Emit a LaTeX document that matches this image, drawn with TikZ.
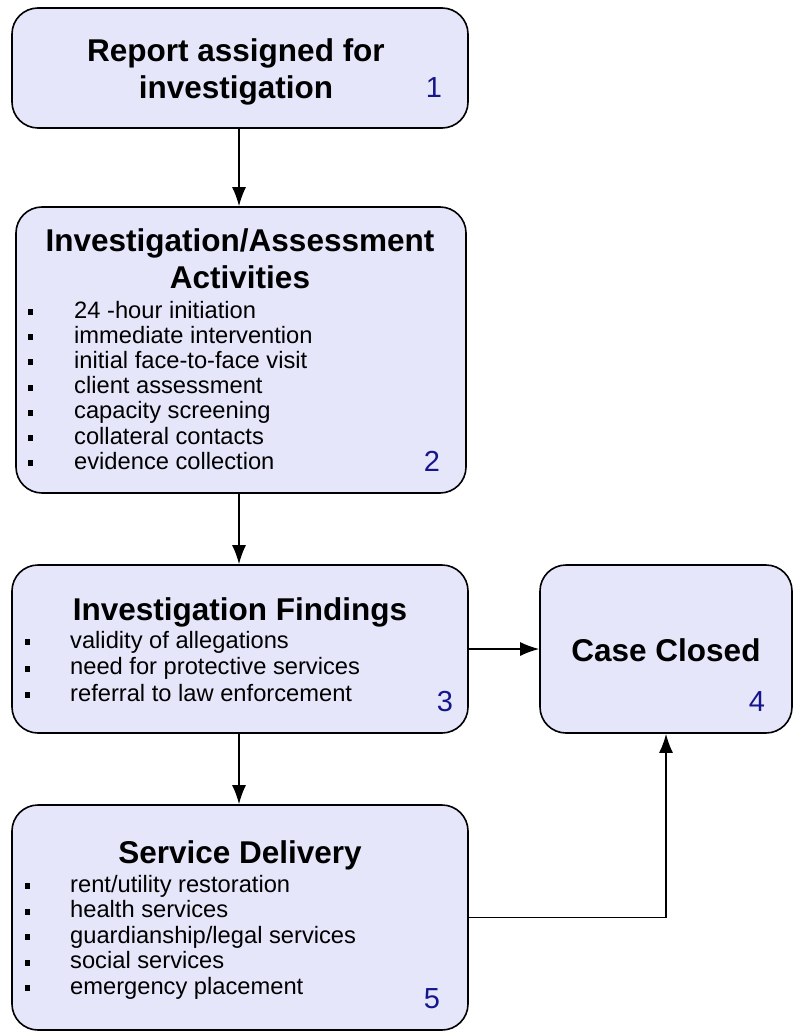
\documentclass[tikz,border=0pt]{standalone}
\usepackage{fontspec}
\setmainfont{Liberation Sans}
\usetikzlibrary{arrows.meta}

\definecolor{boxfill}{HTML}{E6E6FA}
\definecolor{numblue}{HTML}{16168C}

\tikzset{
  box/.style={draw, line width=1.6pt, rounded corners=26pt, fill=boxfill},
  title/.style={font=\fontsize{31.5}{37}\selectfont\bfseries, align=center},
  item/.style={anchor=west, inner sep=0pt, text height=17pt, text depth=5pt,
    font=\fontsize{23.7}{24}\selectfont},
  num/.style={font=\fontsize{29}{29}\selectfont, text=numblue, inner sep=0pt},
  flow/.style={line width=1.6pt, -{Latex[length=19pt,width=14pt]}}
}

\begin{document}
\begin{tikzpicture}[x=1pt,y=-1pt]
     \useasboundingbox (0,0) rectangle (796,1032);
     % boxes
     \node[box, minimum width=456pt, minimum height=120pt] (report) at (240,68) {};
     \node[box, minimum width=450pt, minimum height=286pt] (activities) at (241,350) {};
     \node[box, minimum width=456pt, minimum height=168pt] (findings) at (240,649) {};
     \node[box, minimum width=252pt, minimum height=168pt] (closed) at (666,649) {};
     \node[box, minimum width=456pt, minimum height=225pt] (delivery) at (240,917.5) {};
     % titles
     \node[title] (reporttitle) at (236,71.5) {Report assigned for\\investigation};
     \node[title] (acttitle) at (240,259) {Investigation/Assessment\\Activities};
     \node[title] (findtitle) at (240,612) {Investigation Findings};
     \node[title] (closedtitle) at (666,650) {Case Closed};
     \node[title] (delivtitle) at (240,855) {Service Delivery};
     % bullet lists
     \foreach \t [count=\i] in {24 -hour initiation, immediate intervention, initial face-to-face visit,
        client assessment, capacity screening, collateral contacts, evidence collection}
        {\fill (28,{312+25.2*(\i-1)-3}) rectangle ++(5,6);
         \node[item] at (74,{312+25.2*(\i-1)}) {\t};}
     \foreach \t [count=\i] in {validity of allegations, need for protective services, referral to law enforcement}
        {\fill (25,{642+26.5*(\i-1)-3}) rectangle ++(5,6);
         \node[item] at (70,{642+26.5*(\i-1)}) {\t};}
     \foreach \t [count=\i] in {rent/utility restoration, health services, guardianship/legal services,
        social services, emergency placement}
        {\fill (25,{886+25.5*(\i-1)-3}) rectangle ++(5,6);
         \node[item] at (70,{886+25.5*(\i-1)}) {\t};}
     % numbers
     \node[num] (n1) at (434,88) {1};
     \node[num] (n2) at (432,461) {2};
     \node[num] (n3) at (445,702) {3};
     \node[num] (n4) at (757,702) {4};
     \node[num] (n5) at (432,999) {5};
     % connectors
     \draw[flow] (report.south -| 239,0) -- (activities.north -| 239,0);
     \draw[flow] (activities.south -| 239,0) -- (findings.north -| 239,0);
     \draw[flow] (findings.south -| 239,0) -- (delivery.north -| 239,0);
     \draw[flow] (findings.east) -- (closed.west);
     \draw[flow] (delivery.east) -| (closed.south);
\end{tikzpicture}
\end{document}
